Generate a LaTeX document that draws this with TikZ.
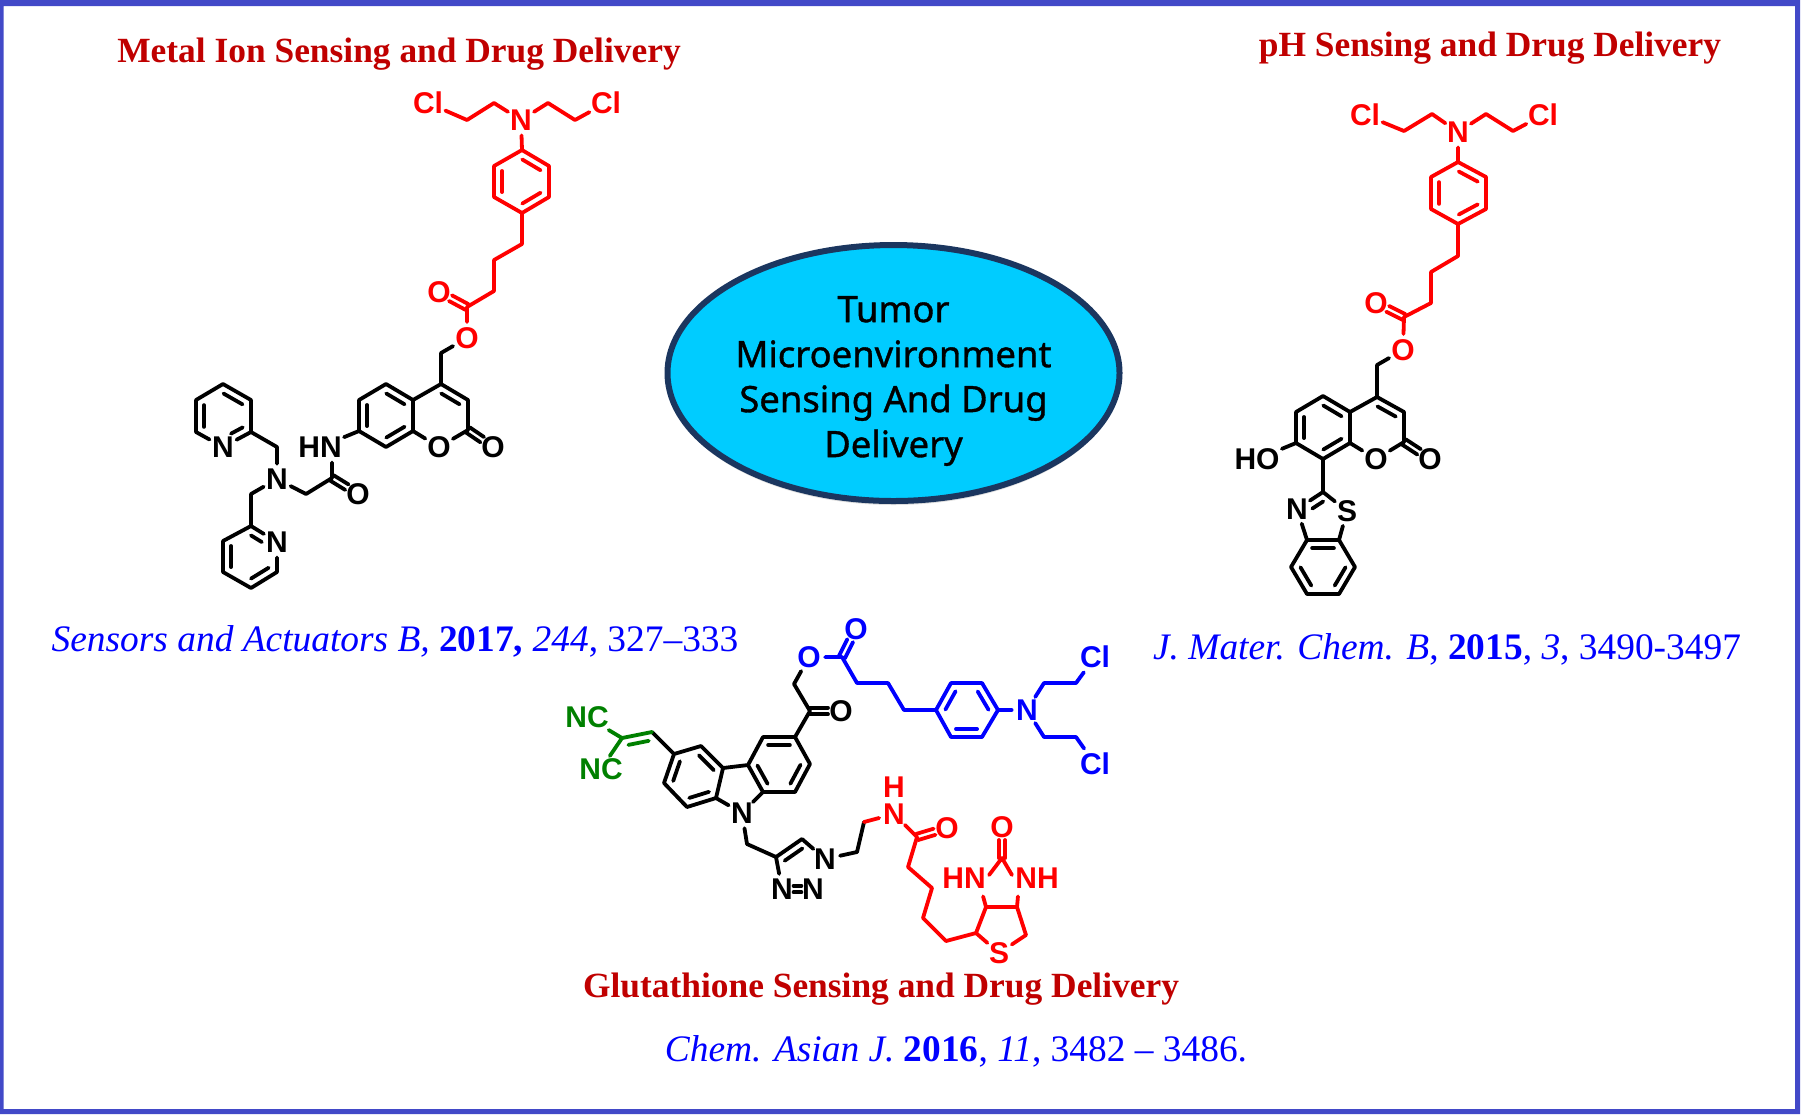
\documentclass[tikz,border=0pt]{standalone}
\usepackage{fontspec}
\setmainfont{Liberation Serif}
\newfontfamily\atomfont{Liberation Sans}
\newfontfamily\bubblefont[FakeBold=1]{Noto Sans}
\usetikzlibrary{calc,shadows,shapes.geometric}
\definecolor{framecol}{HTML}{4249C8}
\definecolor{headcol}{HTML}{C00000}
\definecolor{bubblecol}{HTML}{00CCFF}
\definecolor{bubbleline}{HTML}{1B365F}
\definecolor{cnblue}{HTML}{0000FF}
\definecolor{cngreen}{HTML}{008000}
\tikzset{
  atom/.style={circle,inner sep=0pt,minimum size=15pt,font=\atomfont\bfseries\fontsize{15}{15}\selectfont},
  group/.style={rectangle,inner sep=1pt,font=\atomfont\bfseries\fontsize{15}{15}\selectfont},
  bond/.style={line width=1.9pt,line cap=round,line join=round},
  head/.style={text=headcol,font=\bfseries\fontsize{17.7}{17.7}\selectfont},
  cite/.style={text=cnblue,font=\fontsize{18.7}{18.7}\selectfont}
}
% inner line of a ring bond, on the left of a -> b
\newcommand{\dblf}[4]{\draw[bond] ($(#1)!#3!(#2)!4pt!90:(#2)$) -- ($(#2)!#4!(#1)!4pt!-90:(#1)$);}
\newcommand{\dbl}[2]{\dblf{#1}{#2}{0.16}{0.16}}
% two lines of a C=O bond, b is a labelled atom
\newcommand{\cdbl}[2]{
  \draw[bond,shorten >=6.5pt] ($(#1)!1.6pt!90:(#2)$) -- ($(#2)!1.6pt!-90:(#1)$);
  \draw[bond,shorten >=6.5pt] ($(#1)!1.6pt!-90:(#2)$) -- ($(#2)!1.6pt!90:(#1)$);}
\begin{document}
\begin{tikzpicture}[x=0.5pt,y=-0.5pt]

  \useasboundingbox (0,0) rectangle (1802,1116);
  \fill[framecol,even odd rule] (0,0) rectangle (1800,1114) (3.5,6) rectangle (1795,1109);

  \node[head] (headl) at (399,54)  {Metal Ion Sensing and Drug Delivery};
  \node[head] (headr) at (1490,48) {pH Sensing and Drug Delivery};
  \node[head] (headb) at (881,989) {Glutathione Sensing and Drug Delivery};

  \node[cite] (citel) at (395,641)  {\textit{Sensors and Actuators B,} \textbf{2017,} \textit{244}, 327--333};
  \node[cite] (citer) at (1447,649) {\textit{J. Mater. Chem. B}, \textbf{2015}, \textit{3}, 3490-3497};
  \node[cite] (citeb) at (956,1051) {\textit{Chem. Asian J.} \textbf{2016}, \textit{11}, 3482 -- 3486.};

  \node[ellipse,draw=bubbleline,fill=bubblecol,line width=3pt,minimum width=226pt,minimum height=128pt,
        inner sep=0pt,drop shadow={opacity=0.25,shadow xshift=0pt,shadow yshift=-2pt}] (bubble) at (893.5,373) {};
  \node[align=center,font=\bubblefont\fontsize{18.2}{22.5}\selectfont] (bubbletext) at (893.5,381)
        {Tumor\\Microenvironment\\Sensing And Drug\\Delivery};

  % left molecule
  \begin{scope}[red,every node/.style={atom}]
    \node (lcl1) at (428,103) {Cl};
    \node (lcl2) at (606,103) {Cl};
    \node (ln1)  at (521,120) {N};
    \node (lo1)  at (439,292) {O};
    \node (lo2)  at (467,338) {O};
    \coordinate (la1) at (467,120);
    \coordinate (la2) at (494,103);
    \coordinate (la3) at (548,103);
    \coordinate (la4) at (575,120);
    \coordinate (lb1) at (522,150);
    \coordinate (lb2) at (549,166);
    \coordinate (lb3) at (549,197);
    \coordinate (lb4) at (522,213);
    \coordinate (lb5) at (494,197);
    \coordinate (lb6) at (494,166);
    \coordinate (lc1) at (522,244);
    \coordinate (lc2) at (494,260);
    \coordinate (lc3) at (494,291);
    \coordinate (lc4) at (467,307);
    \draw[bond] (lcl1) -- (la1) -- (la2) -- (ln1) -- (la3) -- (la4) -- (lcl2);
    \draw[bond] (ln1) -- (lb1) -- (lb2) -- (lb3) -- (lb4) -- (lb5) -- (lb6) -- (lb1);
    \dbl{lb2}{lb1} \dbl{lb6}{lb5} \dbl{lb4}{lb3}
    \draw[bond] (lb4) -- (lc1) -- (lc2) -- (lc3) -- (lc4) -- (lo2);
    \cdbl{lc4}{lo1}
  \end{scope}
  \begin{scope}[every node/.style={atom}]
    \node (lo3) at (439,447) {O};
    \node (lo4) at (493,447) {O};
    \node (lo5) at (358,494) {O};
    \node (ln3) at (277,479) {N};
    \node (ln4) at (223,447) {N};
    \node (ln5) at (277,542) {N};
    \node[group] (lhn) at (320,447) {HN};
    \coordinate (ld1)  at (441,353);
    \coordinate (ld2)  at (441,384);
    \coordinate (ld3)  at (468,400);
    \coordinate (ld4)  at (468,430);
    \coordinate (ld5)  at (413,431);
    \coordinate (ld6)  at (413,400);
    \coordinate (ld7)  at (386,384);
    \coordinate (ld8)  at (359,400);
    \coordinate (ld9)  at (359,431);
    \coordinate (ld10) at (386,447);
    \coordinate (le1)  at (332,478);
    \coordinate (le2)  at (306,494);
    \coordinate (le3)  at (277,447);
    \coordinate (le4)  at (251,432);
    \coordinate (le5)  at (196,432);
    \coordinate (le6)  at (196,400);
    \coordinate (le7)  at (223,384);
    \coordinate (le8)  at (251,400);
    \coordinate (lf1)  at (251,494);
    \coordinate (lf2)  at (251,526);
    \coordinate (lf3)  at (277,572);
    \coordinate (lf4)  at (251,588);
    \coordinate (lf5)  at (223,572);
    \coordinate (lf6)  at (223,541);
    \draw[bond] (lo2) -- (ld1) -- (ld2) -- (ld3) -- (ld4) -- (lo3) -- (ld5) -- (ld6) -- (ld2);
    \draw[bond] (ld6) -- (ld7) -- (ld8) -- (ld9) -- (ld10) -- (ld5);
    \dbl{ld3}{ld2} \dbl{ld6}{ld7} \dbl{ld8}{ld9} \dbl{ld10}{ld5}
    \cdbl{ld4}{lo4}
    \draw[bond] (ld9) -- (lhn);
    \draw[bond] (lhn.south -| le1) -- (le1) -- (le2) -- (ln3) -- (le3) -- (le4) -- (ln4) -- (le5) -- (le6) -- (le7) -- (le8) -- (le4);
    \cdbl{le1}{lo5}
    \dbl{le6}{le5} \dbl{le8}{le7} \dblf{ln4}{le4}{0.42}{0.16}
    \draw[bond] (ln3) -- (lf1) -- (lf2) -- (ln5) -- (lf3) -- (lf4) -- (lf5) -- (lf6) -- (lf2);
    \dbl{lf6}{lf5} \dbl{lf4}{lf3} \dblf{ln5}{lf2}{0.42}{0.16}
  \end{scope}

  % right molecule
  \begin{scope}[red,every node/.style={atom}]
    \node (rcl1) at (1365,115) {Cl};
    \node (rcl2) at (1543,115) {Cl};
    \node (rn1)  at (1458,132) {N};
    \node (ro1)  at (1376,303) {O};
    \node (ro2)  at (1403,350) {O};
    \coordinate (ra1) at (1404,131);
    \coordinate (ra2) at (1432,114);
    \coordinate (ra3) at (1486,114);
    \coordinate (ra4) at (1513,131);
    \coordinate (rb1) at (1458,162);
    \coordinate (rb2) at (1486,177);
    \coordinate (rb3) at (1486,209);
    \coordinate (rb4) at (1458,224);
    \coordinate (rb5) at (1431,209);
    \coordinate (rb6) at (1431,177);
    \coordinate (rc1) at (1458,256);
    \coordinate (rc2) at (1431,272);
    \coordinate (rc3) at (1431,303);
    \coordinate (rc4) at (1404,317);
    \draw[bond] (rcl1) -- (ra1) -- (ra2) -- (rn1) -- (ra3) -- (ra4) -- (rcl2);
    \draw[bond] (rn1) -- (rb1) -- (rb2) -- (rb3) -- (rb4) -- (rb5) -- (rb6) -- (rb1);
    \dbl{rb2}{rb1} \dbl{rb6}{rb5} \dbl{rb4}{rb3}
    \draw[bond] (rb4) -- (rc1) -- (rc2) -- (rc3) -- (rc4) -- (ro2);
    \cdbl{rc4}{ro1}
  \end{scope}
  \begin{scope}[every node/.style={atom}]
    \node (ro3) at (1376,459) {O};
    \node (ro4) at (1430,459) {O};
    \node (rn2) at (1297,509) {N};
    \node (rs1) at (1347,511) {S};
    \node[group] (rho) at (1257,459) {HO};
    \coordinate (rd1)  at (1377,365);
    \coordinate (rd2)  at (1377,397);
    \coordinate (rd3)  at (1404,412);
    \coordinate (rd4)  at (1404,442);
    \coordinate (rd5)  at (1350,443);
    \coordinate (rd6)  at (1350,412);
    \coordinate (rd7)  at (1323,396);
    \coordinate (rd8)  at (1296,412);
    \coordinate (rd9)  at (1296,443);
    \coordinate (rd10) at (1323,459);
    \coordinate (re1)  at (1323,492);
    \coordinate (re2)  at (1307,540);
    \coordinate (re3)  at (1339,540);
    \coordinate (re4)  at (1355,567);
    \coordinate (re5)  at (1339,594);
    \coordinate (re6)  at (1307,594);
    \coordinate (re7)  at (1291,567);
    \draw[bond] (ro2) -- (rd1) -- (rd2) -- (rd3) -- (rd4) -- (ro3) -- (rd5) -- (rd6) -- (rd2);
    \draw[bond] (rd6) -- (rd7) -- (rd8) -- (rd9) -- (rd10) -- (rd5);
    \dbl{rd3}{rd2} \dbl{rd6}{rd7} \dbl{rd8}{rd9} \dbl{rd10}{rd5}
    \cdbl{rd4}{ro4}
    \draw[bond] (rd9) -- (rho);
    \draw[bond] (rd10) -- (re1) -- (rs1) -- (re3) -- (re2) -- (rn2) -- (re1);
    \draw[bond] (re3) -- (re4) -- (re5) -- (re6) -- (re7) -- (re2);
    \dblf{re1}{rn2}{0.16}{0.42} \dbl{re3}{re2} \dbl{re5}{re4} \dbl{re7}{re6}
  \end{scope}

  % bottom molecule, black core
  \begin{scope}[every node/.style={atom}]
    \node (bn1) at (742,813) {N};
    \node (bo1) at (841,711) {O};
    \node (bn2) at (825,859) {N};
    \node (bn3) at (813,889) {N};
    \node (bn4) at (782,889) {N};
    \coordinate (bv)  at (652,732);
    \coordinate (ba1) at (674,754);
    \coordinate (ba2) at (701,746);
    \coordinate (ba3) at (723,768);
    \coordinate (ba4) at (716,798);
    \coordinate (ba5) at (687,807);
    \coordinate (ba6) at (664,783);
    \coordinate (bb1) at (748,765);
    \coordinate (bb2) at (763,737);
    \coordinate (bb3) at (795,737);
    \coordinate (bb4) at (810,764);
    \coordinate (bb5) at (795,792);
    \coordinate (bb6) at (763,792);
    \coordinate (bc1) at (810,711);
    \coordinate (bc2) at (794,684);
    \coordinate (bd1) at (747,844);
    \coordinate (bd2) at (776,857);
    \coordinate (bd3) at (802,839);
    \coordinate (bd4) at (857,852);
    \coordinate (bd5) at (864,822);
    \draw[bond] (bv) -- (ba1) -- (ba2) -- (ba3) -- (ba4) -- (ba5) -- (ba6) -- (ba1);
    \dbl{ba3}{ba2} \dbl{ba5}{ba4} \dbl{ba1}{ba6}
    \draw[bond] (ba3) -- (bb1) -- (bb2) -- (bb3) -- (bb4) -- (bb5) -- (bb6) -- (bb1);
    \dbl{bb3}{bb2} \dbl{bb5}{bb4} \dbl{bb1}{bb6}
    \draw[bond] (ba4) -- (bn1) -- (bb6);
    \draw[bond] (bb3) -- (bc1) -- (bc2);
    \cdbl{bc1}{bo1}
    \draw[bond] (bn1) -- (bd1) -- (bd2) -- (bd3) -- (bn2) -- (bd4) -- (bd5);
    \dbl{bd3}{bd2}
    \draw[bond] (bd2) -- (bn4);
    \draw[bond,shorten <=5.8pt,shorten >=5.8pt] ($(bn4)!1.6pt!90:(bn3)$) -- ($(bn3)!1.6pt!-90:(bn4)$);
    \draw[bond,shorten <=5.8pt,shorten >=5.8pt] ($(bn4)!1.6pt!-90:(bn3)$) -- ($(bn3)!1.6pt!90:(bn4)$);
  \end{scope}

  % nitrile arm
  \begin{scope}[cngreen,every node/.style={group}]
    \node (gnc1) at (587,717) {NC};
    \node (gnc2) at (601,769) {NC};
    \coordinate (gc) at (622,738);
    \draw[bond] (gnc1) -- (gc) -- (gnc2);
    \draw[bond] (gc) -- (bv);
    \dbl{bv}{gc}
  \end{scope}

  % blue mustard arm
  \begin{scope}[cnblue,every node/.style={atom}]
    \node (so1)  at (809,657)  {O};
    \node (so2)  at (856,629)  {O};
    \node (sn1)  at (1027,710) {N};
    \node (scl1) at (1095,657) {Cl};
    \node (scl2) at (1095,764) {Cl};
    \coordinate (sa1) at (842,657);
    \coordinate (sa2) at (857,683);
    \coordinate (sa3) at (888,683);
    \coordinate (sa4) at (904,710);
    \coordinate (sb1) at (936,710);
    \coordinate (sb2) at (951,683);
    \coordinate (sb3) at (982,683);
    \coordinate (sb4) at (998,710);
    \coordinate (sb5) at (982,737);
    \coordinate (sb6) at (951,737);
    \coordinate (sc1) at (1044,683);
    \coordinate (sc2) at (1076,683);
    \coordinate (sc3) at (1044,737);
    \coordinate (sc4) at (1076,737);
    \draw[bond] (so1) -- (sa1) -- (sa2) -- (sa3) -- (sa4) -- (sb1) -- (sb2) -- (sb3) -- (sb4) -- (sb5) -- (sb6) -- (sb1);
    \cdbl{sa1}{so2}
    \dbl{sb2}{sb1} \dbl{sb6}{sb5} \dbl{sb4}{sb3}
    \draw[bond] (sb4) -- (sn1);
    \draw[bond] (sn1) -- (sc1) -- (sc2) -- (scl1);
    \draw[bond] (sn1) -- (sc3) -- (sc4) -- (scl2);
  \end{scope}
  \draw[bond] (bc2) -- (so1);

  % biotin arm
  \begin{scope}[red,every node/.style={atom}]
    \node (tn1) at (894,814) {N};
    \node (th1) at (894,787) {H};
    \node (to1) at (947,828) {O};
    \node (to2) at (1002,827) {O};
    \node (ts1) at (999,953) {S};
    \node[group] (thn) at (964,878) {HN};
    \node[group] (tnh) at (1037,878) {NH};
    \coordinate (ta1) at (917,837);
    \coordinate (ta2) at (908,867);
    \coordinate (ta3) at (932,888);
    \coordinate (ta4) at (923,918);
    \coordinate (ta5) at (946,941);
    \coordinate (ta6) at (976,933);
    \coordinate (tb1) at (986,907);
    \coordinate (tb2) at (1017,907);
    \coordinate (tb3) at (1026,935);
    \coordinate (tb4) at (1002,858);
    \draw[bond] (bd5) -- (tn1) -- (ta1) -- (ta2) -- (ta3) -- (ta4) -- (ta5) -- (ta6) -- (tb1) -- (tb2) -- (tb3) -- (ts1) -- (ta6);
    \cdbl{ta1}{to1}
    \cdbl{tb4}{to2}
    \draw[bond] (tb1) -- ($(thn.south east)+(-5,3)$);
    \draw[bond] (tb2) -- ($(tnh.south west)+(5,3)$);
    \draw[bond] ($(thn.east)+(1,-3)$) -- (tb4) -- ($(tnh.west)+(-1,-3)$);
  \end{scope}

\end{tikzpicture}
\end{document}
